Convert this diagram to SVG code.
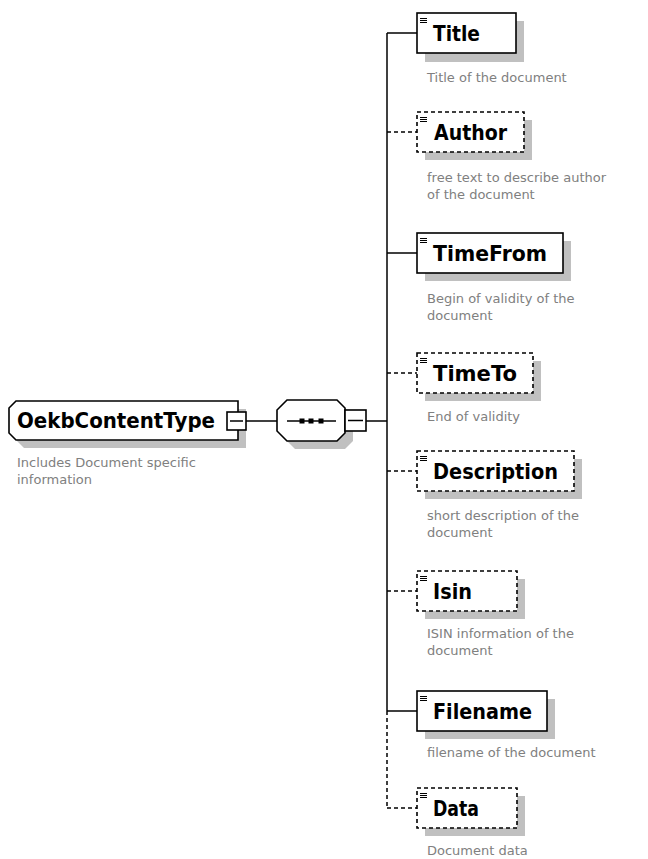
<svg xmlns="http://www.w3.org/2000/svg" width="648" height="859" viewBox="0 0 648 859">
<style>
.bg{fill:#ffffff}
.sh{fill:#c0c0c0;stroke:none}
.box{fill:#ffffff;stroke:#000000;stroke-width:1.6}
.opt{fill:#ffffff;stroke:#000000;stroke-width:1.6;stroke-dasharray:4 3}
.ln{fill:none;stroke:#000000;stroke-width:1.5}
.dln{fill:none;stroke:#000000;stroke-width:1.5;stroke-dasharray:4 3}
.name{font-family:"DejaVu Sans","Liberation Sans",sans-serif;font-weight:bold;font-size:21px;fill:#000000}
.desc{font-family:"DejaVu Sans","Liberation Sans",sans-serif;font-size:13px;fill:#808080}
.ic{fill:none;stroke:#000000;stroke-width:1}
</style>
<defs>
<path id="icon" class="ic" d="M0,0.5h7M0,2.5h7M0,4.5h7"/>
</defs>
<rect class="bg" x="0" y="0" width="648" height="859"/>

<g id="connectors">
<line class="ln" x1="246" y1="421" x2="277" y2="421"/>
<line class="ln" x1="366" y1="421" x2="387" y2="421"/>
<line class="ln" x1="387" y1="33" x2="387" y2="711"/>
<line class="dln" x1="387" y1="711" x2="387" y2="808"/>
<line class="ln" x1="387" y1="33" x2="417" y2="33"/>
<line class="dln" x1="387" y1="132" x2="417" y2="132"/>
<line class="ln" x1="387" y1="253" x2="417" y2="253"/>
<line class="dln" x1="387" y1="373" x2="417" y2="373"/>
<line class="dln" x1="387" y1="471" x2="417" y2="471"/>
<line class="dln" x1="387" y1="591" x2="417" y2="591"/>
<line class="ln" x1="387" y1="711" x2="417" y2="711"/>
<line class="dln" x1="387" y1="808" x2="417" y2="808"/>
</g>

<g id="OekbContentType">
<path class="sh" d="M24,409H246V448H24L17,441V416Z"/>
<path class="box" d="M16,401H238V440H16L9,433V408Z"/>
<text class="name" x="17" y="428" textLength="198" lengthAdjust="spacingAndGlyphs">OekbContentType</text>
<rect class="box" x="227" y="412" width="19" height="18"/>
<line class="ln" x1="230" y1="421" x2="243" y2="421"/>
<text class="desc" x="17" y="467">Includes Document specific</text>
<text class="desc" x="17" y="484">information</text>
</g>

<g id="sequence">
<path class="sh" d="M295,408H345L353,416V441L345,449H295L285,439V418Z"/>
<path class="box" d="M287,400H337L345,408V433L337,441H287L277,431V410Z"/>
<line class="ln" x1="287" y1="421" x2="336" y2="421"/>
<rect x="299.5" y="418.5" width="5" height="5" fill="#000"/>
<rect x="308.5" y="418.5" width="5" height="5" fill="#000"/>
<rect x="318.5" y="418.5" width="5" height="5" fill="#000"/>
<rect class="box" x="345" y="410" width="21" height="21"/>
<line class="ln" x1="348" y1="420.5" x2="363" y2="420.5"/>
</g>

<g id="Title">
<rect class="sh" x="425" y="21" width="99" height="41"/>
<rect class="box" x="417" y="13" width="99" height="40"/>
<use href="#icon" x="420" y="18"/>
<text class="name" x="433" y="40.5" textLength="47" lengthAdjust="spacingAndGlyphs">Title</text>
<text class="desc" x="427" y="82">Title of the document</text>
</g>

<g id="Author">
<rect class="sh" x="425" y="120" width="107" height="40"/>
<rect class="opt" x="417" y="112" width="107" height="40"/>
<use href="#icon" x="420" y="117"/>
<text class="name" x="434" y="139.5" textLength="73" lengthAdjust="spacingAndGlyphs">Author</text>
<text class="desc" x="427" y="182">free text to describe author</text>
<text class="desc" x="427" y="198.5">of the document</text>
</g>

<g id="TimeFrom">
<rect class="sh" x="425" y="241" width="146" height="40"/>
<rect class="box" x="417" y="233" width="146" height="40"/>
<use href="#icon" x="420" y="238"/>
<text class="name" x="433" y="260.5" textLength="114" lengthAdjust="spacingAndGlyphs">TimeFrom</text>
<text class="desc" x="427" y="303">Begin of validity of the</text>
<text class="desc" x="427" y="319.5">document</text>
</g>

<g id="TimeTo">
<rect class="sh" x="425" y="361" width="116" height="40"/>
<rect class="opt" x="417" y="353" width="116" height="40"/>
<use href="#icon" x="420" y="358"/>
<text class="name" x="433" y="380.5" textLength="84" lengthAdjust="spacingAndGlyphs">TimeTo</text>
<text class="desc" x="427" y="421">End of validity</text>
</g>

<g id="Description">
<rect class="sh" x="425" y="459" width="157" height="40"/>
<rect class="opt" x="417" y="451" width="157" height="40"/>
<use href="#icon" x="420" y="456"/>
<text class="name" x="433" y="478.5" textLength="125" lengthAdjust="spacingAndGlyphs">Description</text>
<text class="desc" x="427" y="520">short description of the</text>
<text class="desc" x="427" y="536.5">document</text>
</g>

<g id="Isin">
<rect class="sh" x="425" y="579" width="100" height="40"/>
<rect class="opt" x="417" y="571" width="100" height="40"/>
<use href="#icon" x="420" y="576"/>
<text class="name" x="433" y="598.5" textLength="39" lengthAdjust="spacingAndGlyphs">Isin</text>
<text class="desc" x="427" y="638">ISIN information of the</text>
<text class="desc" x="427" y="654.5">document</text>
</g>

<g id="Filename">
<rect class="sh" x="425" y="699" width="130" height="40"/>
<rect class="box" x="417" y="691" width="130" height="40"/>
<use href="#icon" x="420" y="696"/>
<text class="name" x="433" y="718.5" textLength="99" lengthAdjust="spacingAndGlyphs">Filename</text>
<text class="desc" x="427" y="757">filename of the document</text>
</g>

<g id="Data">
<rect class="sh" x="425" y="796" width="100" height="40"/>
<rect class="opt" x="417" y="788" width="100" height="40"/>
<use href="#icon" x="420" y="793"/>
<text class="name" x="433" y="815.5" textLength="46" lengthAdjust="spacingAndGlyphs">Data</text>
<text class="desc" x="427" y="855">Document data</text>
</g>
</svg>
